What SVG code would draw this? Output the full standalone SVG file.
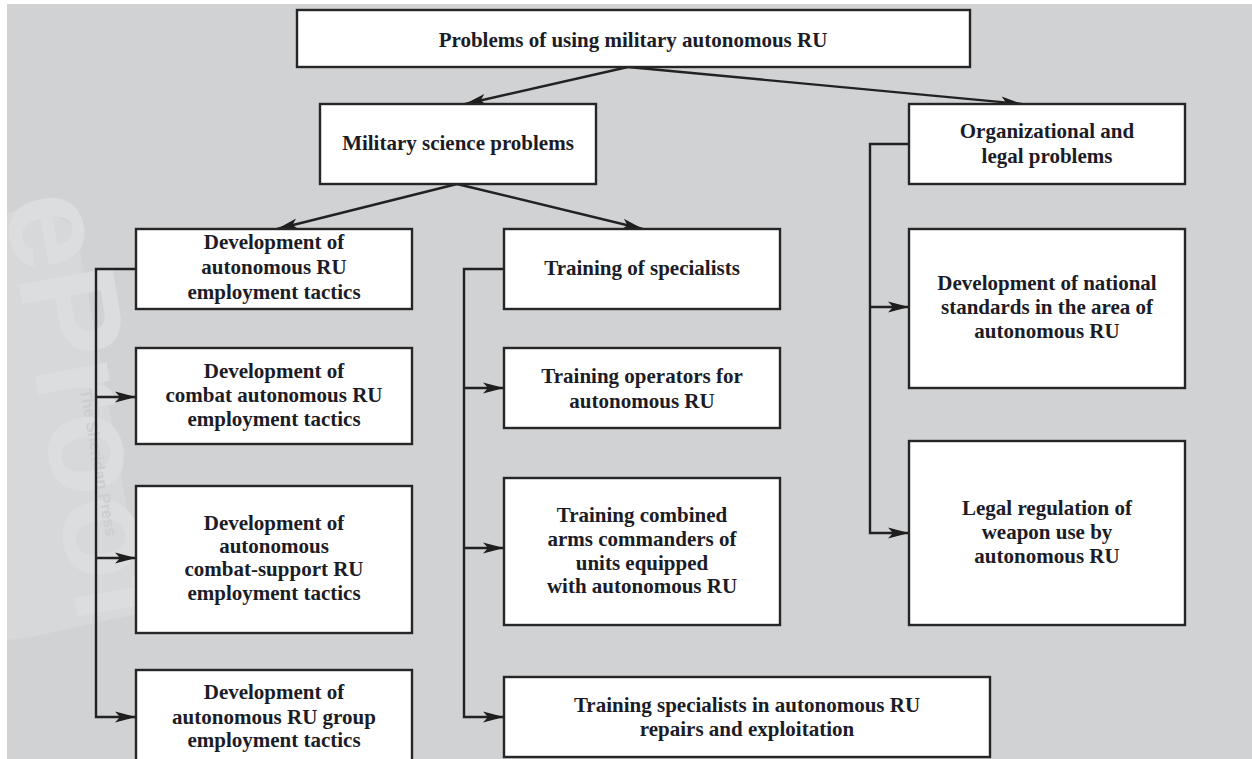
<svg xmlns="http://www.w3.org/2000/svg" width="1252" height="759" viewBox="0 0 1252 759">
<defs>
<style>
.box{fill:#ffffff;stroke:#262626;stroke-width:2.4}
.t{font-family:"Liberation Serif","Times New Roman",serif;font-weight:bold;font-size:21px;fill:#1c1c26;text-anchor:middle}
.c{fill:none;stroke:#222222;stroke-width:2.4}
.wm{font-family:"Liberation Sans",Arial,sans-serif;font-weight:bold}
</style>
<marker id="ah" markerUnits="userSpaceOnUse" markerWidth="22" markerHeight="12" refX="21" refY="6" orient="auto">
<path d="M0,0.5 L21,6 L0,11.5 L5,6 Z" fill="#1e1e1e"/>
</marker>
</defs>
<rect x="0" y="0" width="1252" height="759" fill="#ffffff"/>
<rect x="7" y="4" width="1245" height="755" fill="#d1d2d4"/>
<g id="watermark">
<polygon points="7,214 37,203 76,228 146,612 26,638 7,640" fill="#d7d8da"/>
<text class="wm" transform="translate(4,200) rotate(80)" font-size="138" fill="#dcdddf">eProof</text>
<text class="wm" transform="translate(80,390) rotate(80)" font-size="16" font-weight="normal" fill="#cdced0">The Sheridan Press</text>
</g>
<g id="connectors">
<line class="c" x1="628" y1="67" x2="465" y2="104" marker-end="url(#ah)"/>
<line class="c" x1="628" y1="67" x2="1022" y2="104" marker-end="url(#ah)"/>
<line class="c" x1="457" y1="184" x2="277" y2="229" marker-end="url(#ah)"/>
<line class="c" x1="457" y1="184" x2="643" y2="229" marker-end="url(#ah)"/>
<path class="c" d="M136,269 H96 V717 H136" marker-end="url(#ah)"/>
<line class="c" x1="96" y1="397" x2="136" y2="397" marker-end="url(#ah)"/>
<line class="c" x1="96" y1="558" x2="136" y2="558" marker-end="url(#ah)"/>
<path class="c" d="M504,269 H464 V717 H504" marker-end="url(#ah)"/>
<line class="c" x1="464" y1="388" x2="504" y2="388" marker-end="url(#ah)"/>
<line class="c" x1="464" y1="548" x2="504" y2="548" marker-end="url(#ah)"/>
<path class="c" d="M909,144 H870 V533 H909" marker-end="url(#ah)"/>
<line class="c" x1="870" y1="307" x2="909" y2="307" marker-end="url(#ah)"/>
</g>
<g id="n-root">
<rect class="box" x="297" y="10" width="673" height="57"/>
<text class="t" x="633" y="47">Problems of using military autonomous RU</text>
</g>
<g id="n-military">
<rect class="box" x="320" y="104" width="276" height="80"/>
<text class="t" x="458" y="150">Military science problems</text>
</g>
<g id="n-org">
<rect class="box" x="909" y="104" width="276" height="80"/>
<text class="t" x="1047" y="138">Organizational and</text>
<text class="t" x="1047" y="163">legal problems</text>
</g>
<g id="n-devtactics">
<rect class="box" x="136" y="229" width="276" height="80"/>
<text class="t" x="274" y="249">Development of</text>
<text class="t" x="274" y="274">autonomous RU</text>
<text class="t" x="274" y="299">employment tactics</text>
</g>
<g id="n-training">
<rect class="box" x="504" y="229" width="276" height="80"/>
<text class="t" x="642" y="275">Training of specialists</text>
</g>
<g id="n-standards">
<rect class="box" x="909" y="229" width="276" height="159"/>
<text class="t" x="1047" y="290">Development of national</text>
<text class="t" x="1047" y="314">standards in the area of</text>
<text class="t" x="1047" y="338">autonomous RU</text>
</g>
<g id="n-combat">
<rect class="box" x="136" y="348" width="276" height="96"/>
<text class="t" x="274" y="378">Development of</text>
<text class="t" x="274" y="402">combat autonomous RU</text>
<text class="t" x="274" y="426">employment tactics</text>
</g>
<g id="n-operators">
<rect class="box" x="504" y="348" width="276" height="80"/>
<text class="t" x="642" y="383">Training operators for</text>
<text class="t" x="642" y="408">autonomous RU</text>
</g>
<g id="n-legal">
<rect class="box" x="909" y="441" width="276" height="184"/>
<text class="t" x="1047" y="515">Legal regulation of</text>
<text class="t" x="1047" y="539">weapon use by</text>
<text class="t" x="1047" y="563">autonomous RU</text>
</g>
<g id="n-support">
<rect class="box" x="136" y="486" width="276" height="147"/>
<text class="t" x="274" y="530">Development of</text>
<text class="t" x="274" y="553">autonomous</text>
<text class="t" x="274" y="576">combat-support RU</text>
<text class="t" x="274" y="600">employment tactics</text>
</g>
<g id="n-commanders">
<rect class="box" x="504" y="478" width="276" height="147"/>
<text class="t" x="642" y="522">Training combined</text>
<text class="t" x="642" y="546">arms commanders of</text>
<text class="t" x="642" y="570">units equipped</text>
<text class="t" x="642" y="593">with autonomous RU</text>
</g>
<g id="n-group">
<rect class="box" x="136" y="670" width="276" height="110"/>
<text class="t" x="274" y="699">Development of</text>
<text class="t" x="274" y="724">autonomous RU group</text>
<text class="t" x="274" y="747">employment tactics</text>
</g>
<g id="n-repairs">
<rect class="box" x="504" y="677" width="486" height="80"/>
<text class="t" x="747" y="712">Training specialists in autonomous RU</text>
<text class="t" x="747" y="736">repairs and exploitation</text>
</g>
</svg>
